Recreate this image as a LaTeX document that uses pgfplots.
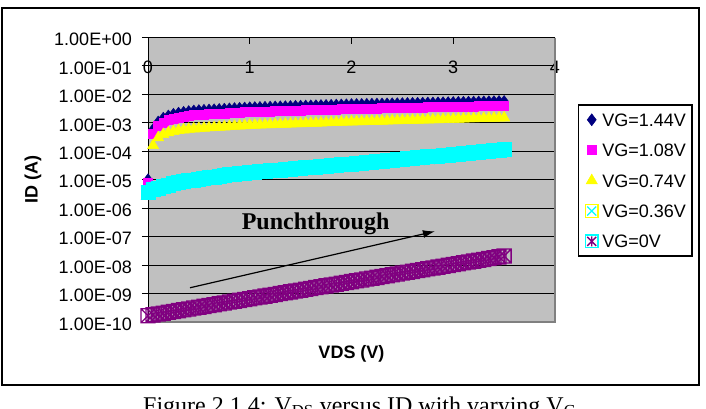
\documentclass[border=0pt]{standalone}
\usepackage{fontspec}
\setmainfont{Liberation Serif}
\newfontfamily\arial{Liberation Sans}
\usepackage{pgfplots}
\pgfplotsset{compat=1.18}
\usepackage{pgfplotstable}
\usetikzlibrary{arrows.meta}

\definecolor{xlnavy}{RGB}{0,0,128}
\definecolor{xlmagenta}{RGB}{255,0,255}
\definecolor{xlyellow}{RGB}{255,255,0}
\definecolor{xlcyan}{RGB}{0,255,255}
\definecolor{xlpurple}{RGB}{128,0,128}
\definecolor{xlsilver}{RGB}{192,192,192}
\definecolor{xlgray}{RGB}{128,128,128}

% square with a cross inside (filled)
\pgfdeclareplotmark{boxcross}{%
  \pgfpathrectangle{\pgfqpoint{-\pgfplotmarksize}{-\pgfplotmarksize}}{\pgfqpoint{2\pgfplotmarksize}{2\pgfplotmarksize}}%
  \pgfusepathqfillstroke
  \pgfpathmoveto{\pgfqpoint{-\pgfplotmarksize}{-\pgfplotmarksize}}\pgfpathlineto{\pgfqpoint{\pgfplotmarksize}{\pgfplotmarksize}}%
  \pgfpathmoveto{\pgfqpoint{-\pgfplotmarksize}{\pgfplotmarksize}}\pgfpathlineto{\pgfqpoint{\pgfplotmarksize}{-\pgfplotmarksize}}%
  \pgfusepathqstroke}
% square with a star inside (outline only)
\pgfdeclareplotmark{boxstar}{%
  \pgfpathrectangle{\pgfqpoint{-\pgfplotmarksize}{-\pgfplotmarksize}}{\pgfqpoint{2\pgfplotmarksize}{2\pgfplotmarksize}}%
  \pgfpathmoveto{\pgfqpoint{-\pgfplotmarksize}{-\pgfplotmarksize}}\pgfpathlineto{\pgfqpoint{\pgfplotmarksize}{\pgfplotmarksize}}%
  \pgfpathmoveto{\pgfqpoint{-\pgfplotmarksize}{\pgfplotmarksize}}\pgfpathlineto{\pgfqpoint{\pgfplotmarksize}{-\pgfplotmarksize}}%
  \pgfpathmoveto{\pgfqpoint{0pt}{\pgfplotmarksize}}\pgfpathlineto{\pgfqpoint{0pt}{-\pgfplotmarksize}}%
  \pgfusepathqstroke}

% drain current ID (A) versus drain voltage VDS (V) for several gate voltages
\pgfplotstableread{
V    n144     m108     y074     c036     p0
0.00 1.00e-5  8.0e-6   3.0e-6   3.5e-6   1.66e-10
0.05 5.8e-4   4.0e-4   1.6e-4   4.4e-6   1.78e-10
0.10 1.07e-3  7.6e-4   3.0e-4   5.1e-6   1.91e-10
0.15 1.45e-3  1.04e-3  3.9e-4   5.8e-6   2.04e-10
0.20 1.74e-3  1.24e-3  4.5e-4   6.5e-6   2.19e-10
0.25 2.00e-3  1.43e-3  5.0e-4   7.1e-6   2.34e-10
0.30 2.19e-3  1.56e-3  5.4e-4   7.8e-6   2.51e-10
0.35 2.34e-3  1.67e-3  5.7e-4   8.4e-6   2.69e-10
0.40 2.48e-3  1.77e-3  6.0e-4   9.1e-6   2.88e-10
0.45 2.60e-3  1.86e-3  6.2e-4   9.8e-6   3.09e-10
0.50 2.69e-3  1.92e-3  6.4e-4   1.05e-5  3.31e-10
0.55 2.75e-3  1.96e-3  6.57e-4  1.11e-5  3.55e-10
0.60 2.82e-3  2.01e-3  6.74e-4  1.17e-5  3.80e-10
0.65 2.88e-3  2.06e-3  6.91e-4  1.24e-5  4.07e-10
0.70 2.95e-3  2.11e-3  7.09e-4  1.32e-5  4.36e-10
0.75 3.02e-3  2.16e-3  7.27e-4  1.40e-5  4.67e-10
0.80 3.09e-3  2.21e-3  7.46e-4  1.48e-5  5.01e-10
0.85 3.16e-3  2.26e-3  7.65e-4  1.55e-5  5.37e-10
0.90 3.24e-3  2.31e-3  7.85e-4  1.62e-5  5.75e-10
0.95 3.31e-3  2.36e-3  8.05e-4  1.70e-5  6.16e-10
1.00 3.39e-3  2.42e-3  8.26e-4  1.78e-5  6.60e-10
1.05 3.43e-3  2.45e-3  8.37e-4  1.84e-5  7.07e-10
1.10 3.48e-3  2.49e-3  8.49e-4  1.91e-5  7.58e-10
1.15 3.52e-3  2.51e-3  8.61e-4  1.97e-5  8.12e-10
1.20 3.57e-3  2.55e-3  8.73e-4  2.04e-5  8.70e-10
1.25 3.61e-3  2.58e-3  8.85e-4  2.11e-5  9.32e-10
1.30 3.66e-3  2.61e-3  8.97e-4  2.19e-5  9.99e-10
1.35 3.70e-3  2.64e-3  9.10e-4  2.26e-5  1.070e-9
1.40 3.75e-3  2.68e-3  9.22e-4  2.34e-5  1.147e-9
1.45 3.80e-3  2.71e-3  9.35e-4  2.43e-5  1.229e-9
1.50 3.85e-3  2.75e-3  9.48e-4  2.51e-5  1.317e-9
1.55 3.89e-3  2.78e-3  9.61e-4  2.60e-5  1.411e-9
1.60 3.94e-3  2.81e-3  9.75e-4  2.69e-5  1.512e-9
1.65 3.99e-3  2.85e-3  9.88e-4  2.79e-5  1.620e-9
1.70 4.04e-3  2.89e-3  1.002e-3 2.88e-5  1.736e-9
1.75 4.09e-3  2.92e-3  1.016e-3 2.98e-5  1.860e-9
1.80 4.14e-3  2.96e-3  1.030e-3 3.09e-5  1.993e-9
1.85 4.20e-3  3.00e-3  1.045e-3 3.20e-5  2.135e-9
1.90 4.25e-3  3.04e-3  1.059e-3 3.31e-5  2.288e-9
1.95 4.31e-3  3.08e-3  1.074e-3 3.43e-5  2.451e-9
2.00 4.37e-3  3.12e-3  1.089e-3 3.55e-5  2.63e-9
2.05 4.41e-3  3.15e-3  1.101e-3 3.69e-5  2.82e-9
2.10 4.44e-3  3.17e-3  1.113e-3 3.83e-5  3.02e-9
2.15 4.48e-3  3.20e-3  1.125e-3 3.98e-5  3.23e-9
2.20 4.52e-3  3.23e-3  1.137e-3 4.14e-5  3.47e-9
2.25 4.56e-3  3.26e-3  1.149e-3 4.30e-5  3.71e-9
2.30 4.60e-3  3.29e-3  1.162e-3 4.47e-5  3.98e-9
2.35 4.63e-3  3.31e-3  1.174e-3 4.64e-5  4.26e-9
2.40 4.67e-3  3.34e-3  1.187e-3 4.82e-5  4.57e-9
2.45 4.71e-3  3.36e-3  1.200e-3 5.01e-5  4.89e-9
2.50 4.75e-3  3.39e-3  1.213e-3 5.21e-5  5.25e-9
2.55 4.79e-3  3.42e-3  1.226e-3 5.41e-5  5.62e-9
2.60 4.83e-3  3.45e-3  1.239e-3 5.62e-5  6.02e-9
2.65 4.88e-3  3.49e-3  1.253e-3 5.84e-5  6.45e-9
2.70 4.92e-3  3.51e-3  1.266e-3 6.07e-5  6.92e-9
2.75 4.96e-3  3.54e-3  1.280e-3 6.31e-5  7.41e-9
2.80 5.00e-3  3.57e-3  1.294e-3 6.55e-5  7.94e-9
2.85 5.04e-3  3.60e-3  1.308e-3 6.81e-5  8.51e-9
2.90 5.09e-3  3.64e-3  1.322e-3 7.08e-5  9.12e-9
2.95 5.13e-3  3.66e-3  1.336e-3 7.35e-5  9.77e-9
3.00 5.17e-3  3.69e-3  1.351e-3 7.64e-5  1.047e-8
3.05 5.22e-3  3.73e-3  1.365e-3 7.94e-5  1.122e-8
3.10 5.26e-3  3.76e-3  1.380e-3 8.25e-5  1.202e-8
3.15 5.31e-3  3.79e-3  1.395e-3 8.57e-5  1.288e-8
3.20 5.35e-3  3.82e-3  1.410e-3 8.91e-5  1.380e-8
3.25 5.40e-3  3.86e-3  1.425e-3 9.26e-5  1.479e-8
3.30 5.44e-3  3.89e-3  1.441e-3 9.62e-5  1.585e-8
3.35 5.49e-3  3.92e-3  1.456e-3 1.000e-4 1.698e-8
3.40 5.53e-3  3.95e-3  1.472e-3 1.039e-4 1.820e-8
3.45 5.58e-3  3.99e-3  1.488e-3 1.080e-4 1.950e-8
3.50 5.62e-3  4.01e-3  1.504e-3 1.122e-4 2.089e-8
}\idvds

\newcommand{\chartfont}{\arial\fontsize{18}{21.6}\selectfont}

\begin{document}
\begin{tikzpicture}[x=1pt,y=1pt]
\useasboundingbox (0,0) rectangle (706,408);
% chart frame
\draw[line width=2pt] (2,400) rectangle (699,23);
\begin{axis}[
  at={(148pt,86pt)}, anchor=south west,
  scale only axis, width=407pt, height=284.5pt,
  xmin=0, xmax=4,
  ymode=log, ymin=1e-10, ymax=1,
  clip=false,
  axis background/.style={fill=xlsilver},
  axis line style={draw=none},
  ymajorgrids, yminorgrids=false, yminorticks=false,
  grid style={black, line width=1pt},
  ytick={1e-10,1e-9,1e-8,1e-7,1e-6,1e-5,1e-4,1e-3,1e-2,1e-1,1},
  yticklabels={1.00E-10,1.00E-09,1.00E-08,1.00E-07,1.00E-06,1.00E-05,1.00E-04,1.00E-03,1.00E-02,1.00E-01,1.00E+00},
  xtick={0,1,2,3,4}, xticklabels={0,1,2,3,4},
  xtick pos=right, xticklabel pos=right, xtick align=inside,
  ytick pos=left, ytick align=outside,
  major tick length=6pt,
  tick style={black, line width=1pt},
  yticklabel style={font=\chartfont, anchor=east, inner sep=0pt, xshift=-10pt, yshift=-2pt},
  xticklabel style={font=\chartfont, anchor=center, inner sep=0pt, yshift=-30.2pt},
  xlabel={VDS (V)}, ylabel={ID (A)},
  every axis x label/.style={at={(axis description cs:0.5,-0.1125)}, anchor=center, font=\chartfont\bfseries},
  every axis y label/.style={at={(axis description cs:-0.2826,0.5)}, rotate=90, anchor=center, font=\chartfont\bfseries},
  legend cell align=left,
  legend style={at={(axis description cs:1.0565,0.765)}, anchor=north west,
    draw=black, line width=1.5pt, fill=white, font=\chartfont,
    inner xsep=6pt, inner ysep=7.7pt, row sep=16.4pt,
    nodes={inner sep=0pt, text depth=0pt, text height=13pt},
    /tikz/every odd column/.append style={column sep=3.7pt}},
  legend image code/.code={\path[draw=none, fill=none] (0pt,-7pt) rectangle (14pt,7pt);
    \draw[#1, line width=0.5pt] plot coordinates {(7pt,0pt)};},
]
% plot-area border
\draw[xlgray, line width=1.5pt] (rel axis cs:0,0) -- (rel axis cs:1,0) -- (rel axis cs:1,1);
\draw[black, line width=1pt] (rel axis cs:0,0) -- (rel axis cs:0,1);

\addplot[xlnavy, only marks, mark=diamond*, mark size=6pt, mark options={line width=0.5pt}]
  table[x=V, y=n144] {\idvds};
\addlegendentry{VG=1.44V}
\addplot[xlmagenta, only marks, mark=square*, mark size=4.5pt, mark options={line width=0.5pt}]
  table[x=V, y=m108] {\idvds};
\addlegendentry{VG=1.08V}
\addplot[xlyellow, only marks, mark=triangle*, mark size=6.5pt, mark options={line width=0.5pt}]
  table[x=V, y=y074] {\idvds};
\addlegendentry{VG=0.74V}
\addplot[xlcyan, only marks, mark=boxcross, mark size=7pt, mark options={line width=1pt},
  legend image code/.code={\path[draw=none, fill=none] (0pt,-7pt) rectangle (14pt,7pt);
    \draw[xlyellow, line width=1.3pt] (0.7pt,-6.3pt) rectangle (13.3pt,6.3pt);
    \draw[xlcyan, line width=1.3pt] (2.5pt,-4.5pt) -- (11.5pt,4.5pt) (2.5pt,4.5pt) -- (11.5pt,-4.5pt);}]
  table[x=V, y=c036] {\idvds};
\addlegendentry{VG=0.36V}
\addplot[xlpurple, only marks, mark=boxstar, mark size=7pt, mark options={line width=1.3pt},
  legend image code/.code={\path[draw=none, fill=none] (0pt,-7pt) rectangle (14pt,7pt);
    \draw[xlcyan, line width=1.3pt] (0.7pt,-6.3pt) rectangle (13.3pt,6.3pt);
    \draw[xlpurple, line width=1.3pt] (2.5pt,-4.5pt) -- (11.5pt,4.5pt) (2.5pt,4.5pt) -- (11.5pt,-4.5pt) (7pt,5pt) -- (7pt,-5pt);}]
  table[x=V, y=p0] {\idvds};
\addlegendentry{VG=0V}

% punchthrough annotation
\draw[-{Latex[length=12pt,width=8pt]}, line width=1.2pt] (axis cs:0.413,1.6e-9) -- (axis cs:2.82,1.54e-7);
\node[anchor=base west, inner sep=0pt, font=\fontsize{24}{28}\selectfont\bfseries] at (axis cs:0.92,1.8e-7) {Punchthrough};
\end{axis}
% figure caption
\node[anchor=base west, inner sep=0pt, font=\fontsize{24}{28}\selectfont] at (143,-5)
  {Figure 2.1.4: V\textsubscript{DS} versus ID with varying V\textsubscript{G}};
\end{tikzpicture}
\end{document}
